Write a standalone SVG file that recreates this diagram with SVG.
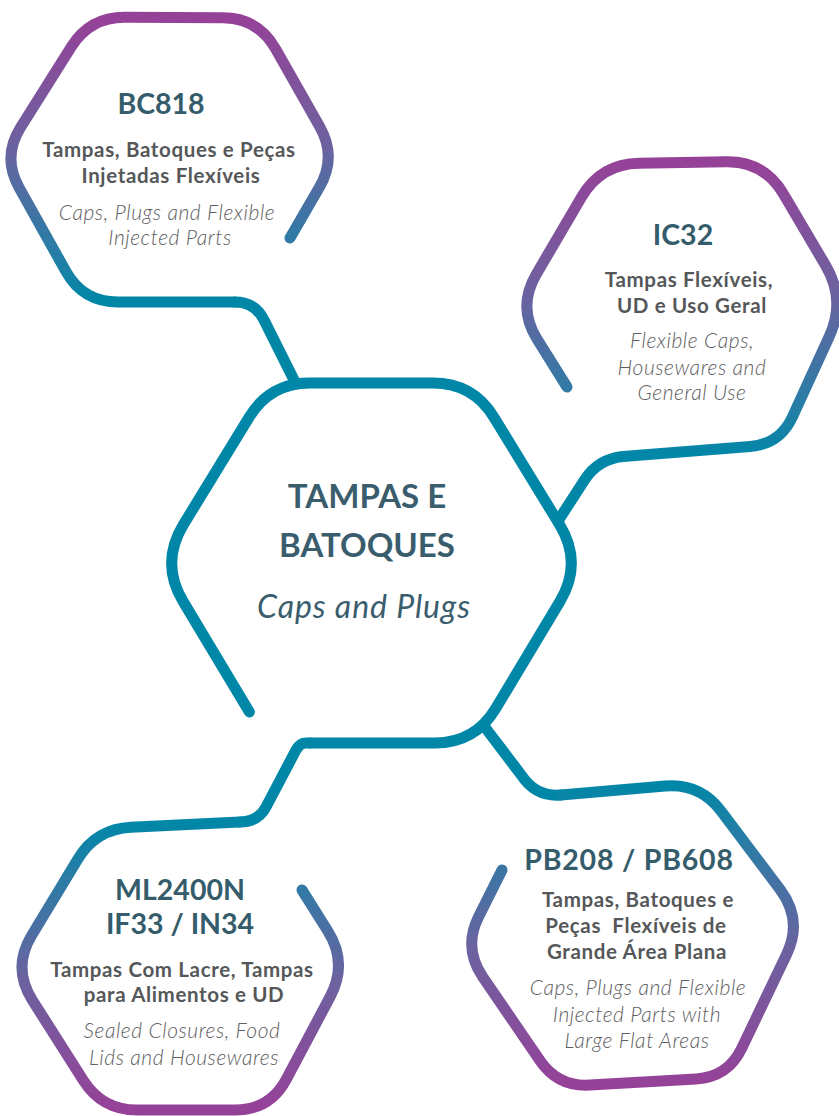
<svg xmlns="http://www.w3.org/2000/svg" width="839" height="1116" viewBox="0 0 839 1116">
<defs>
<linearGradient id="gBC" gradientUnits="userSpaceOnUse" x1="0" y1="17" x2="0" y2="302">
<stop offset="0" stop-color="#964198"/><stop offset="0.45" stop-color="#6c62a0"/><stop offset="0.8" stop-color="#2c7ca6"/><stop offset="1" stop-color="#0087a7"/>
</linearGradient>
<linearGradient id="gIC" gradientUnits="userSpaceOnUse" x1="0" y1="161" x2="0" y2="457">
<stop offset="0" stop-color="#964198"/><stop offset="0.45" stop-color="#6c62a0"/><stop offset="0.8" stop-color="#2c7ca6"/><stop offset="1" stop-color="#0087a7"/>
</linearGradient>
<linearGradient id="gML" gradientUnits="userSpaceOnUse" x1="0" y1="822" x2="0" y2="1110">
<stop offset="0" stop-color="#0087a7"/><stop offset="0.2" stop-color="#2c7ca6"/><stop offset="0.55" stop-color="#6c62a0"/><stop offset="1" stop-color="#964198"/>
</linearGradient>
<linearGradient id="gPB" gradientUnits="userSpaceOnUse" x1="0" y1="783" x2="0" y2="1087">
<stop offset="0" stop-color="#0087a7"/><stop offset="0.2" stop-color="#2c7ca6"/><stop offset="0.55" stop-color="#6c62a0"/><stop offset="1" stop-color="#964198"/>
</linearGradient>
</defs>
<style>
.hex{fill:none;stroke-width:11;stroke-linecap:round;stroke-linejoin:round}
.con{fill:none;stroke:#0087a7;stroke-width:11;stroke-linecap:round;stroke-linejoin:round}
text{font-family:Lato,"Liberation Sans",sans-serif;text-anchor:middle}
.title{font-weight:700;font-size:28.5px;fill:#345c6b}
.sub{font-weight:700;font-size:20.5px;letter-spacing:0.65px;fill:#555759}
.en{font-weight:300;font-style:italic;font-size:21px;letter-spacing:0.55px;fill:#606062}
.ctitle{font-weight:700;font-size:33px;fill:#3a5d6d}
.cen{font-weight:400;font-style:italic;font-size:32px;letter-spacing:0.9px;fill:#3a5d6d}
</style>
<rect width="839" height="1116" fill="#ffffff"/>
<g id="connectors">
<path class="con" d="M235,302 Q255,302 264,320 L295,382"/>
<path class="con" d="M558,521 L584.5,480 Q598,459 622.9,456.5"/>
<path class="con" d="M310,743 L306,743 Q300,743 296,750 L266,807 Q258,822 240,822"/>
<path class="con" d="M484,726 L522,776 Q536,797 561,795"/>
</g>
<g id="center">
<path class="hex" stroke="#0087a7" d="M249.4,712 L183.2,601.6 Q160,563 183.4,524.6 L249.2,417.1 Q270,383 310,383 L433,383 Q473,383 493.8,417.1 L559.6,524.6 Q583,563 559.8,601.6 L495.6,708.7 Q475,743 435,743 L310,743"/>
<text class="ctitle" x="367" y="508">TAMPAS E</text>
<text class="ctitle" x="367" y="557">BATOQUES</text>
<text class="cen" x="364" y="618">Caps and Plugs</text>
</g>
<g id="bc818">
<path class="hex" stroke="url(#gBC)" d="M290,238 L319.4,187.3 Q337,157 319.7,126.6 L275.3,48.4 Q258,18 223,17.8 L125,17.2 Q90,17 71.4,46.6 L20.6,127.4 Q2,157 19.1,187.6 L65.9,271.4 Q83,302 118,302 L235,302"/>
<text class="title" x="161" y="114">BC818</text>
<text class="sub" x="169" y="157">Tampas, Batoques e Peças</text>
<text class="sub" x="171" y="183">Injetadas Flexíveis</text>
<text class="en" x="167" y="220">Caps, Plugs and Flexible</text>
<text class="en" x="170" y="245">Injected Parts</text>
</g>
<g id="ic32">
<path class="hex" stroke="url(#gIC)" d="M622.9,456.5 L750.1,446.5 Q780,444 792.5,416.7 L829.3,336.4 Q846,300 825.7,265.6 L783.3,193.7 Q764,161 726,161.7 L639,163.3 Q601,164 581.7,196.8 L536.3,274.2 Q517,307 537.1,339.2 L567,387"/>
<text class="title" x="683" y="245">IC32</text>
<text class="sub" x="689" y="287">Tampas Flexíveis,</text>
<text class="sub" x="692" y="313">UD e Uso Geral</text>
<text class="en" x="692" y="348">Flexible Caps,</text>
<text class="en" x="692" y="375">Housewares and</text>
<text class="en" x="692" y="400">General Use</text>
</g>
<g id="ml2400n">
<path class="hex" stroke="url(#gML)" d="M240,822 L131,827.3 Q96,829 77.9,859 L31.6,935.5 Q12,968 32.3,1000.1 L83.3,1080.4 Q102,1110 137,1110 L235,1110 Q270,1110 286.4,1079.1 L330.2,996.6 Q348,963 327.7,930.9 L302,890"/>
<text class="title" x="180" y="900">ML2400N</text>
<text class="title" x="180" y="934">IF33 / IN34</text>
<text class="sub" x="182" y="977">Tampas Com Lacre, Tampas</text>
<text class="sub" x="184" y="1002">para Alimentos e UD</text>
<text class="en" x="182" y="1038">Sealed Closures, Food</text>
<text class="en" x="184" y="1065">Lids and Housewares</text>
</g>
<g id="pb208">
<path class="hex" stroke="url(#gPB)" d="M561,795 L665.1,786 Q700,783 721,811 L780.2,889.6 Q803,920 786.6,954.3 L741.8,1048.1 Q728,1077 696.1,1078.9 L589.9,1085.1 Q558,1087 540,1060.6 L482.7,976.9 Q463,948 478.6,916.7 L502,870"/>
<text class="title" x="629" y="870" style="letter-spacing:0.8px">PB208 / PB608</text>
<text class="sub" x="638" y="907">Tampas, Batoques e</text>
<text class="sub" x="636" y="933" xml:space="preserve">Peças  Flexíveis de</text>
<text class="sub" x="637" y="959">Grande Área Plana</text>
<text class="en" x="638" y="995">Caps, Plugs and Flexible</text>
<text class="en" x="637" y="1022">Injected Parts with</text>
<text class="en" x="637" y="1048">Large Flat Areas</text>
</g>
</svg>
